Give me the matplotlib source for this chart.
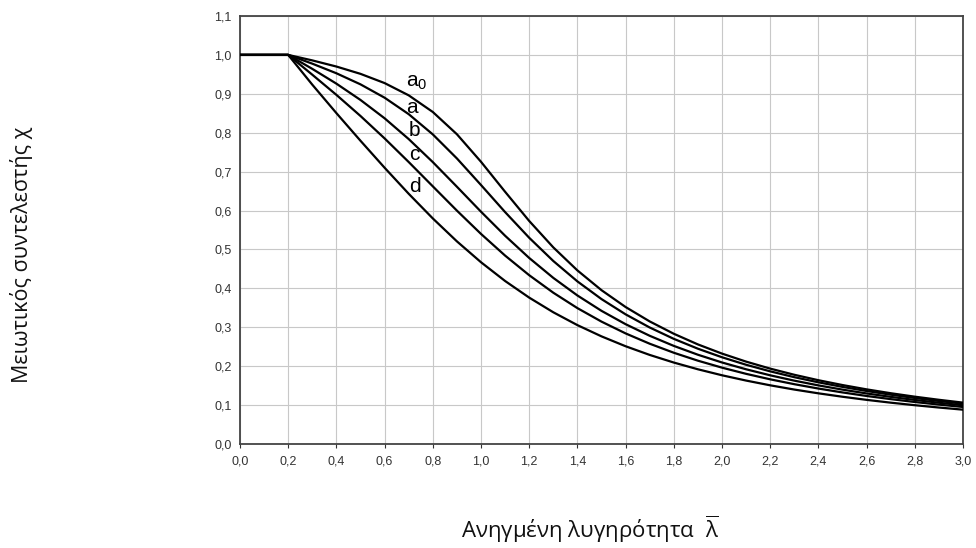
#!/usr/bin/env python
# -*- coding: utf-8 -*-
"""Buckling reduction factor curves (a0, a, b, c, d) vs non-dimensional slenderness."""

import matplotlib
matplotlib.use("Agg")
import matplotlib.pyplot as plt
from matplotlib.ticker import MultipleLocator, FuncFormatter

# slenderness values (x) and reduction factors
lam = [0.0, 0.1, 0.2, 0.3, 0.4, 0.5, 0.6, 0.7, 0.8, 0.9, 1.0,
       1.1, 1.2, 1.3, 1.4, 1.5, 1.6, 1.7, 1.8, 1.9, 2.0,
       2.1, 2.2, 2.3, 2.4, 2.5, 2.6, 2.7, 2.8, 2.9, 3.0]

chi_a0 = [1.0, 1.0, 1.0, 0.9859, 0.9701, 0.9513, 0.9276, 0.8961, 0.8533, 0.7961, 0.7253,
          0.6482, 0.5732, 0.5053, 0.4461, 0.3953, 0.3520, 0.3150, 0.2833, 0.2559, 0.2323,
          0.2117, 0.1937, 0.1779, 0.1639, 0.1515, 0.1404, 0.1305, 0.1216, 0.1136, 0.1063]
chi_a = [1.0, 1.0, 1.0, 0.9775, 0.9528, 0.9243, 0.8900, 0.8477, 0.7957, 0.7339, 0.6656,
         0.5960, 0.5300, 0.4703, 0.4179, 0.3724, 0.3332, 0.2994, 0.2702, 0.2449, 0.2229,
         0.2036, 0.1867, 0.1717, 0.1585, 0.1467, 0.1362, 0.1267, 0.1182, 0.1105, 0.1036]
chi_b = [1.0, 1.0, 1.0, 0.9641, 0.9261, 0.8842, 0.8371, 0.7837, 0.7245, 0.6612, 0.5970,
         0.5352, 0.4781, 0.4269, 0.3817, 0.3422, 0.3079, 0.2781, 0.2521, 0.2294, 0.2095,
         0.1920, 0.1765, 0.1628, 0.1506, 0.1397, 0.1299, 0.1211, 0.1132, 0.1060, 0.0994]
chi_c = [1.0, 1.0, 1.0, 0.9491, 0.8973, 0.8430, 0.7854, 0.7247, 0.6622, 0.5998, 0.5399,
         0.4842, 0.4338, 0.3888, 0.3492, 0.3145, 0.2842, 0.2577, 0.2345, 0.2141, 0.1962,
         0.1803, 0.1662, 0.1537, 0.1425, 0.1325, 0.1234, 0.1153, 0.1079, 0.1012, 0.0951]
chi_d = [1.0, 1.0, 1.0, 0.9235, 0.8504, 0.7793, 0.7100, 0.6431, 0.5797, 0.5208, 0.4671,
         0.4189, 0.3762, 0.3385, 0.3055, 0.2766, 0.2512, 0.2289, 0.2093, 0.1920, 0.1766,
         0.1630, 0.1508, 0.1399, 0.1302, 0.1214, 0.1134, 0.1062, 0.0997, 0.0937, 0.0882]

curve_names = ["a$_0$", "a", "b", "c", "d"]
# label anchor points (x, y) in data coordinates
label_x = [0.69, 0.69, 0.70, 0.70, 0.70]
label_y = [0.928, 0.866, 0.807, 0.743, 0.663]

plt.rcParams["font.family"] = ["Open Sans", "DejaVu Sans"]
plt.rcParams["mathtext.default"] = "regular"

fig = plt.figure(figsize=(9.76, 5.48), dpi=100)
ax = fig.add_axes([0.2459, 0.1898, 0.7408, 0.781])

for chi in [chi_a0, chi_a, chi_b, chi_c, chi_d]:
    ax.plot(lam, chi, color="black", lw=1.6, solid_joinstyle="round", zorder=3)

for name, x, y in zip(curve_names, label_x, label_y):
    ax.text(x, y, name, fontsize=15, ha="left", va="center", color="black",
            family="Liberation Sans", zorder=4)

ax.set_xlim(0, 3.0)
ax.set_ylim(0, 1.1)
ax.xaxis.set_major_locator(MultipleLocator(0.2))
ax.yaxis.set_major_locator(MultipleLocator(0.1))
comma = FuncFormatter(lambda v, p: f"{v:.1f}".replace(".", ","))
ax.xaxis.set_major_formatter(comma)
ax.yaxis.set_major_formatter(comma)

ax.grid(True, color="#c8c8c8", lw=0.8)
ax.set_axisbelow(True)
for sp in ax.spines.values():
    sp.set_color("#444444")
    sp.set_linewidth(1.3)
ax.tick_params(axis="both", labelsize=9, colors="#333333", length=3, width=0.8)
ax.tick_params(axis="y", length=0, pad=6)
ax.tick_params(axis="x", pad=5)
for lbl in ax.get_xticklabels() + ax.get_yticklabels():
    lbl.set_family("Liberation Sans")

fig.text(0.022, 0.535, "Μειωτικός συντελεστής χ", rotation=90, fontsize=15.5,
         ha="center", va="center", color="#111111")
fig.text(0.605, 0.035, r"Ανηγμένη λυγηρότητα  $\overline{\lambda}$", fontsize=16,
         ha="center", va="center", color="#111111")

fig.savefig("out.png", dpi=100)
